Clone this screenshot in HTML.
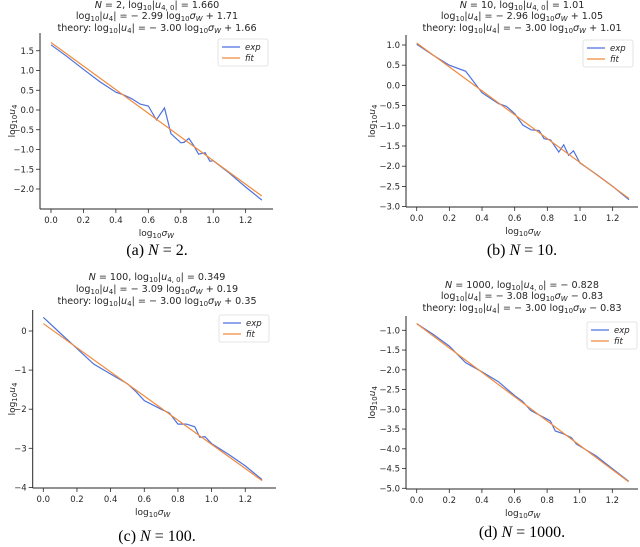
<!DOCTYPE html>
<html><head><meta charset="utf-8"><style>
html,body{margin:0;padding:0;background:#fff;}
svg{display:block;}
text{font-family:"DejaVu Sans","Liberation Sans",sans-serif;fill:#262626;}
.cap{font-family:"Liberation Serif","DejaVu Serif",serif;font-size:16px;fill:#000;}
</style></head><body>
<svg id="fig" width="640" height="547" viewBox="0 0 640 547" xmlns="http://www.w3.org/2000/svg"></svg>
<script>
// Data for each panel
const xA = [0,0.1,0.2,0.3,0.4,0.45,0.5,0.55,0.6,0.65,0.7,0.74,0.8,0.82,0.85,0.88,0.91,0.95,0.98,1.0,1.1,1.2,1.3];
const yA = [1.65,1.35,1.03,0.72,0.45,0.38,0.28,0.15,0.1,-0.25,0.05,-0.6,-0.83,-0.82,-0.72,-0.9,-1.12,-1.08,-1.3,-1.28,-1.6,-1.95,-2.28];
const xB = [0,0.1,0.2,0.3,0.4,0.5,0.55,0.6,0.65,0.7,0.75,0.78,0.82,0.87,0.9,0.93,0.96,1.0,1.1,1.2,1.3];
const yB = [1.02,0.75,0.5,0.35,-0.18,-0.45,-0.52,-0.7,-0.98,-1.1,-1.12,-1.32,-1.35,-1.65,-1.47,-1.73,-1.62,-1.92,-2.2,-2.5,-2.83];
const xC = [0,0.1,0.2,0.3,0.4,0.5,0.55,0.6,0.7,0.75,0.8,0.85,0.9,0.93,0.96,1.0,1.1,1.2,1.3];
const yC = [0.35,-0.05,-0.45,-0.85,-1.1,-1.35,-1.55,-1.78,-2.0,-2.1,-2.38,-2.38,-2.45,-2.72,-2.7,-2.88,-3.15,-3.45,-3.8];
const xD = [0,0.1,0.2,0.3,0.4,0.5,0.6,0.65,0.7,0.8,0.82,0.85,0.9,0.95,0.98,1.1,1.2,1.3];
const yD = [-0.83,-1.1,-1.4,-1.82,-2.05,-2.3,-2.65,-2.8,-3.03,-3.25,-3.3,-3.55,-3.62,-3.72,-3.88,-4.18,-4.5,-4.82];
const fitSlope = [-2.99,-2.96,-3.09,-3.08];
const fitIntercept = [1.71,1.05,0.19,-0.83];
const xTicks = [0,0.2,0.4,0.6,0.8,1.0,1.2];
const yTicksA = [-2,-1.5,-1,-0.5,0,0.5,1,1.5];
const yTicksB = [-3,-2.5,-2,-1.5,-1,-0.5,0,0.5,1];
const yTicksC = [-4,-3,-2,-1,0];
const yTicksD = [-5,-4.5,-4,-3.5,-3,-2.5,-2,-1.5,-1];

const NS="http://www.w3.org/2000/svg";
const svg=document.getElementById('fig');
function mk(tag,attrs,parent){const e=document.createElementNS(NS,tag);for(const k in attrs)e.setAttribute(k,attrs[k]);(parent||svg).appendChild(e);return e;}

const panels=[
 {id:'a',xs:xA,ys:yA,yt:yTicksA,dec:1,x0:51,xk:162.2,y0:110,yk:39.5,L:40,B:209,T:33,R:273,leg:[218,39],titY:[8,19,31],cx:157,ylx:12,
  titles:['<tspan font-style="italic">N</tspan> = 2, log<tspan font-size="7" dy="2">10</tspan><tspan dy="-2">|</tspan><tspan font-style="italic">u</tspan><tspan font-size="7" dy="2">4, 0</tspan><tspan dy="-2">| = 1.660</tspan>',
   'log<tspan font-size="7" dy="2">10</tspan><tspan dy="-2">|</tspan><tspan font-style="italic">u</tspan><tspan font-size="7" dy="2">4</tspan><tspan dy="-2">| = − 2.99 log</tspan><tspan font-size="7" dy="2">10</tspan><tspan dy="-2" font-style="italic">σ</tspan><tspan font-size="7" dy="2" font-style="italic">W</tspan><tspan dy="-2"> + 1.71</tspan>',
   'theory: log<tspan font-size="7" dy="2">10</tspan><tspan dy="-2">|</tspan><tspan font-style="italic">u</tspan><tspan font-size="7" dy="2">4</tspan><tspan dy="-2">| = − 3.00 log</tspan><tspan font-size="7" dy="2">10</tspan><tspan dy="-2" font-style="italic">σ</tspan><tspan font-size="7" dy="2" font-style="italic">W</tspan><tspan dy="-2"> + 1.66</tspan>'],
  cap:'(a) <tspan font-style="italic">N</tspan> = 2.',capY:255},
 {id:'b',xs:xB,ys:yB,yt:yTicksB,dec:1,x0:416.7,xk:163.3,y0:85.4,yk:40.4,L:406,B:207,T:35,R:638,leg:[583,40],titY:[8,19,31],cx:522,ylx:372,
  titles:['<tspan font-style="italic">N</tspan> = 10, log<tspan font-size="7" dy="2">10</tspan><tspan dy="-2">|</tspan><tspan font-style="italic">u</tspan><tspan font-size="7" dy="2">4, 0</tspan><tspan dy="-2">| = 1.01</tspan>',
   'log<tspan font-size="7" dy="2">10</tspan><tspan dy="-2">|</tspan><tspan font-style="italic">u</tspan><tspan font-size="7" dy="2">4</tspan><tspan dy="-2">| = − 2.96 log</tspan><tspan font-size="7" dy="2">10</tspan><tspan dy="-2" font-style="italic">σ</tspan><tspan font-size="7" dy="2" font-style="italic">W</tspan><tspan dy="-2"> + 1.05</tspan>',
   'theory: log<tspan font-size="7" dy="2">10</tspan><tspan dy="-2">|</tspan><tspan font-style="italic">u</tspan><tspan font-size="7" dy="2">4</tspan><tspan dy="-2">| = − 3.00 log</tspan><tspan font-size="7" dy="2">10</tspan><tspan dy="-2" font-style="italic">σ</tspan><tspan font-size="7" dy="2" font-style="italic">W</tspan><tspan dy="-2"> + 1.01</tspan>'],
  cap:'(b) <tspan font-style="italic">N</tspan> = 10.',capY:255},
 {id:'c',xs:xC,ys:yC,yt:yTicksC,dec:0,x0:43.3,xk:168.3,y0:331,yk:39.1,L:32.7,B:488,T:310,R:276,leg:[219,315],titY:[280,292,304],cx:157,ylx:12,
  titles:['<tspan font-style="italic">N</tspan> = 100, log<tspan font-size="7" dy="2">10</tspan><tspan dy="-2">|</tspan><tspan font-style="italic">u</tspan><tspan font-size="7" dy="2">4, 0</tspan><tspan dy="-2">| = 0.349</tspan>',
   'log<tspan font-size="7" dy="2">10</tspan><tspan dy="-2">|</tspan><tspan font-style="italic">u</tspan><tspan font-size="7" dy="2">4</tspan><tspan dy="-2">| = − 3.09 log</tspan><tspan font-size="7" dy="2">10</tspan><tspan dy="-2" font-style="italic">σ</tspan><tspan font-size="7" dy="2" font-style="italic">W</tspan><tspan dy="-2"> + 0.19</tspan>',
   'theory: log<tspan font-size="7" dy="2">10</tspan><tspan dy="-2">|</tspan><tspan font-style="italic">u</tspan><tspan font-size="7" dy="2">4</tspan><tspan dy="-2">| = − 3.00 log</tspan><tspan font-size="7" dy="2">10</tspan><tspan dy="-2" font-style="italic">σ</tspan><tspan font-size="7" dy="2" font-style="italic">W</tspan><tspan dy="-2"> + 0.35</tspan>'],
  cap:'(c) <tspan font-style="italic">N</tspan> = 100.',capY:541},
 {id:'d',xs:xD,ys:yD,yt:yTicksD,dec:1,x0:416.7,xk:163,y0:290.8,yk:39.5,L:406,B:489,T:316,R:638,leg:[587,322],titY:[288,299,311],cx:522,ylx:372,
  titles:['<tspan font-style="italic">N</tspan> = 1000, log<tspan font-size="7" dy="2">10</tspan><tspan dy="-2">|</tspan><tspan font-style="italic">u</tspan><tspan font-size="7" dy="2">4, 0</tspan><tspan dy="-2">| = − 0.828</tspan>',
   'log<tspan font-size="7" dy="2">10</tspan><tspan dy="-2">|</tspan><tspan font-style="italic">u</tspan><tspan font-size="7" dy="2">4</tspan><tspan dy="-2">| = − 3.08 log</tspan><tspan font-size="7" dy="2">10</tspan><tspan dy="-2" font-style="italic">σ</tspan><tspan font-size="7" dy="2" font-style="italic">W</tspan><tspan dy="-2"> − 0.83</tspan>',
   'theory: log<tspan font-size="7" dy="2">10</tspan><tspan dy="-2">|</tspan><tspan font-style="italic">u</tspan><tspan font-size="7" dy="2">4</tspan><tspan dy="-2">| = − 3.00 log</tspan><tspan font-size="7" dy="2">10</tspan><tspan dy="-2" font-style="italic">σ</tspan><tspan font-size="7" dy="2" font-style="italic">W</tspan><tspan dy="-2"> − 0.83</tspan>'],
  cap:'(d) <tspan font-style="italic">N</tspan> = 1000.',capY:537}
];

panels.forEach((p,pi)=>{
  const g=mk('g',{});
  
  
  const X=v=>p.x0+v*p.xk, Y=v=>p.y0-v*p.yk;
  const sl=mk('line',{x1:p.L,y1:p.T,x2:p.L,y2:p.B,stroke:'#262626','stroke-width':1},g);
  
  
  const sb=mk('line',{x1:p.L,y1:p.B,x2:p.R,y2:p.B,stroke:'#262626','stroke-width':1},g);
  
  
  xTicks.forEach(t=>{
    mk('line',{x1:X(t),y1:p.B,x2:X(t),y2:p.B+4,stroke:'#262626','stroke-width':0.8},g);
    const tx=mk('text',{x:X(t),y:p.B+14,'text-anchor':'middle','font-size':8.5},g);
    
    
    tx.textContent=t.toFixed(1);
  });
  p.yt.forEach(t=>{
    mk('line',{x1:p.L-4,y1:Y(t),x2:p.L,y2:Y(t),stroke:'#262626','stroke-width':0.8},g);
    const tx=mk('text',{x:p.L-6,y:Y(t)+3,'text-anchor':'end','font-size':8.5},g);
    
    
    tx.textContent=(t<0?'−':'')+Math.abs(t).toFixed(p.dec);
  });
  const xl=mk('text',{x:(X(0)+X(1.3))/2,y:p.B+27,'text-anchor':'middle','font-size':9},g);
  
  
  xl.innerHTML='log<tspan font-size="7" dy="2">10</tspan><tspan dy="-2" font-style="italic">σ</tspan><tspan font-size="7" dy="2" font-style="italic">W</tspan>';
  const yl=mk('text',{x:0,y:0,'text-anchor':'middle','font-size':9,transform:`translate(${p.ylx+3},${(p.T+p.B)/2}) rotate(-90)`},g);
  
  
  yl.innerHTML='log<tspan font-size="7" dy="2">10</tspan><tspan dy="-2" font-style="italic">u</tspan><tspan font-size="7" dy="2">4</tspan>';
  const d=p.xs.map((v,i)=>(i?'L':'M')+X(v).toFixed(1)+','+Y(p.ys[i]).toFixed(1)).join('');
  const ex=mk('path',{d:d,fill:'none',stroke:'#4c72e0','stroke-width':1.2},g);
  
  
  const f0=fitIntercept[pi], f1=fitIntercept[pi]+fitSlope[pi]*1.3;
  const ft=mk('line',{x1:X(0),y1:Y(f0),x2:X(1.3),y2:Y(f1),stroke:'#f28a3c','stroke-width':1.2},g);
  
  
  const lg=mk('g',{},g);
  
  
  const [lx,ly]=p.leg;
  mk('rect',{x:lx,y:ly,width:50,height:27,rx:2,fill:'#fff',stroke:'#ddd','stroke-width':0.8},lg);
  mk('line',{x1:lx+4,y1:ly+8,x2:lx+22,y2:ly+8,stroke:'#4c72e0','stroke-width':1.2},lg);
  mk('line',{x1:lx+4,y1:ly+19,x2:lx+22,y2:ly+19,stroke:'#f28a3c','stroke-width':1.2},lg);
  const le=mk('text',{x:lx+27,y:ly+11,'font-size':8.5,'font-style':'italic'},lg);
  
  
  le.textContent='exp';
  const lf=mk('text',{x:lx+27,y:ly+22,'font-size':8.5,'font-style':'italic'},lg);
  
  
  lf.textContent='fit';
  p.titles.forEach((t,i)=>{
    const tt=mk('text',{x:p.cx,y:p.titY[i],'text-anchor':'middle','font-size':9.6},g);
    
    
    tt.innerHTML=t;
  });
  const cp=mk('text',{x:p.cx,y:p.capY,'text-anchor':'middle',class:'cap'},g);
  
  
  cp.innerHTML=p.cap;
});
</script>
</body></html>
